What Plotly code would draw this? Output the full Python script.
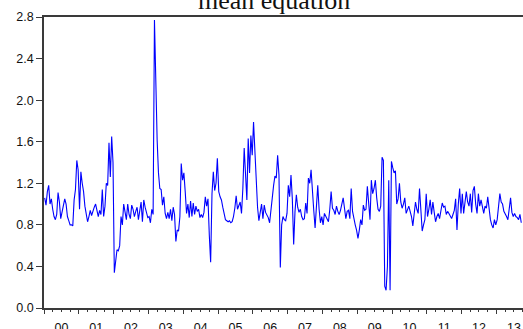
import pandas as pd
import plotly.graph_objects as go

# Fortnightly readings of the fitted mean-equation series, one list per year
v2000 = [1.06, 0.99, 1.12, 1.18, 1.00, 1.05, 0.95, 0.88, 0.85, 0.90, 1.11, 1.02, 0.86,
         0.92, 0.99, 1.05, 1.00, 0.88, 0.84, 0.80, 0.80, 0.79, 1.04, 1.14, 1.42, 1.33]
v2001 = [0.95, 1.31, 1.20, 1.12, 0.98, 0.91, 0.83, 0.88, 0.94, 0.89, 0.94, 0.97, 1.00,
         0.95, 0.88, 0.94, 0.90, 1.14, 0.88, 0.98, 1.20, 1.18, 1.59, 1.26, 1.65, 1.40]
v2002 = [0.34, 0.45, 0.56, 0.55, 0.60, 0.88, 0.80, 1.00, 0.94, 0.85, 1.00, 0.90, 0.86,
         0.99, 0.95, 0.88, 0.93, 0.97, 0.85, 0.94, 1.02, 0.83, 1.04, 0.97, 0.93, 0.87]
v2003 = [0.88, 0.82, 0.95, 0.90, 2.77, 2.00, 1.62, 1.30, 1.15, 1.14, 0.99, 1.07, 0.91,
         0.86, 0.92, 0.86, 0.95, 0.84, 0.97, 0.90, 0.64, 0.75, 0.74, 0.88, 1.39, 1.23]
v2004 = [1.30, 1.12, 0.91, 1.00, 0.87, 1.03, 0.88, 1.01, 0.90, 0.98, 0.93, 0.95, 0.87,
         0.90, 0.87, 0.92, 1.07, 0.98, 1.05, 0.70, 0.44, 1.10, 1.31, 1.13, 1.20, 1.44]
v2005 = [1.12, 1.07, 1.04, 0.97, 0.90, 0.85, 0.84, 0.83, 0.84, 0.82, 0.83, 0.88, 0.96,
         1.08, 0.95, 0.98, 1.02, 0.91, 1.15, 1.54, 1.20, 1.04, 1.63, 1.30, 1.66, 1.47]
v2006 = [1.79, 1.46, 1.12, 0.97, 0.84, 0.95, 1.00, 0.86, 0.99, 0.92, 0.89, 0.87, 0.82,
         0.97, 1.06, 1.18, 1.27, 1.25, 1.47, 1.28, 0.39, 0.80, 0.88, 0.85, 0.84, 0.91]
v2007 = [1.18, 1.07, 1.28, 1.05, 0.61, 0.93, 1.09, 0.97, 0.92, 0.95, 0.88, 0.85, 0.86,
         1.01, 0.91, 1.25, 1.20, 1.33, 1.10, 0.94, 0.77, 0.97, 1.18, 0.95, 0.82, 0.88]
v2008 = [0.80, 0.91, 0.88, 0.86, 0.83, 0.95, 1.12, 0.96, 0.94, 0.90, 0.98, 0.93, 0.90,
         0.94, 1.01, 1.06, 0.96, 0.86, 0.93, 0.94, 0.86, 1.15, 0.93, 0.85, 0.80, 0.75]
v2009 = [0.67, 0.75, 0.85, 0.80, 0.99, 0.94, 0.95, 1.17, 0.96, 0.85, 1.23, 1.10, 1.15,
         1.23, 1.06, 0.95, 0.93, 0.98, 1.45, 1.42, 0.21, 0.17, 0.40, 1.23, 0.17, 1.41]
v2010 = [1.35, 1.30, 1.32, 1.00, 1.05, 1.20, 1.02, 0.96, 1.00, 1.06, 0.91, 0.95, 0.98,
         0.93, 0.88, 0.79, 0.90, 1.02, 0.95, 0.91, 1.15, 0.95, 0.74, 0.80, 0.85, 1.10]
v2011 = [0.88, 0.95, 1.04, 0.90, 1.02, 0.92, 0.83, 0.88, 0.91, 0.86, 0.95, 1.01, 0.97,
         0.98, 0.90, 0.93, 0.91, 0.89, 0.86, 0.90, 0.94, 1.05, 0.75, 1.00, 1.15, 0.91]
v2012 = [1.10, 0.91, 1.05, 1.12, 1.02, 0.98, 1.10, 0.92, 1.13, 1.17, 1.00, 0.91, 1.10,
         0.98, 1.04, 0.95, 0.91, 0.98, 0.96, 1.07, 0.95, 0.85, 0.80, 0.77, 0.85, 0.80]
v2013 = [0.85, 0.95, 1.10, 1.02, 1.00, 0.93, 0.91, 0.88, 0.85, 0.95, 1.06, 0.92, 0.88,
         0.91, 0.88, 0.87, 0.85, 0.90, 0.82]

by_year = {2000: v2000, 2001: v2001, 2002: v2002, 2003: v2003, 2004: v2004,
           2005: v2005, 2006: v2006, 2007: v2007, 2008: v2008, 2009: v2009,
           2010: v2010, 2011: v2011, 2012: v2012, 2013: v2013}

y_ticks = [0.0, 0.4, 0.8, 1.2, 1.6, 2.0, 2.4, 2.8]

# Observation dates: 26 fortnightly periods per year, stamped at mid-period
dates, values = [], []
for year, vals in by_year.items():
    for i, v in enumerate(vals):
        dates.append(pd.Timestamp(year, 1, 1) + pd.Timedelta(days=(i + 0.5) * 365.25 / 26))
        values.append(v)

fig = go.Figure(go.Scatter(x=dates, y=values, mode="lines",
                           line=dict(color="#0000FF", width=1.1), hoverinfo="skip"))

axis_line = "#3a3a3a"
fig.update_layout(
    width=523, height=329,
    margin=dict(l=44, r=0, t=17, b=21),
    paper_bgcolor="white", plot_bgcolor="white",
    showlegend=False,
    font=dict(family="Liberation Sans, Arial, sans-serif", size=12.5, color="#111"),
    xaxis=dict(
        type="date", automargin=False,
        range=["2000-01-01", "2013-10-06"],
        dtick="M12", tick0="2000-01-01", tickformat="%y", ticklabelmode="period",
        ticks="outside", ticklen=4, tickwidth=1, tickcolor=axis_line,
        ticklabelstandoff=3,
        minor=dict(dtick="M3", ticks="outside", ticklen=2.5, tickwidth=1, tickcolor=axis_line),
        showline=True, linecolor=axis_line, linewidth=1.6, mirror=True,
        showgrid=False, zeroline=False,
    ),
    yaxis=dict(
        automargin=False,
        range=[0, 2.8], tickvals=y_ticks, tickformat=".1f",
        ticks="outside", ticklen=6, tickwidth=1, tickcolor=axis_line,
        showline=True, linecolor=axis_line, linewidth=1.6, mirror=False,
        showgrid=False, zeroline=False,
    ),
    annotations=[dict(
        text="mean equation", xref="paper", yref="paper", x=0.481, y=1,
        xanchor="center", yanchor="bottom", yshift=0, showarrow=False,
        font=dict(family="Liberation Serif, Times New Roman, serif", size=26, color="#111"),
    )],
)

fig.write_html("out.html")
